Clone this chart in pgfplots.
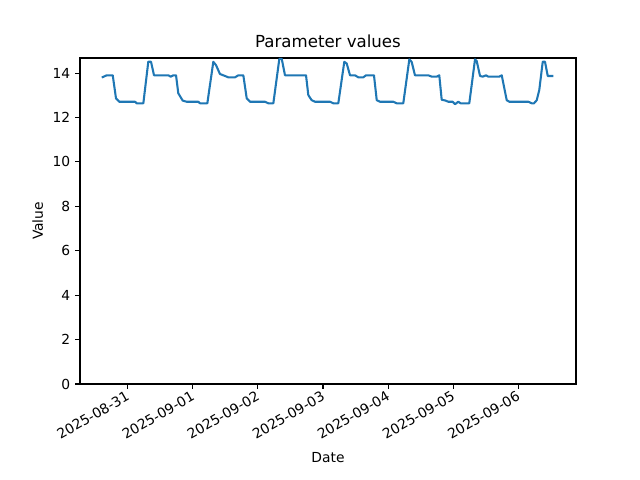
\documentclass[border=0pt]{standalone}
\usepackage{fontspec}
\setmainfont{DejaVu Sans}
\usepackage{pgfplots}
\pgfplotsset{compat=1.18}
\definecolor{mplblue}{HTML}{1F77B4}
\begin{document}
\begin{tikzpicture}
\begin{axis}[
  scale only axis,
  width=4.96in, height=3.26in,
  xmin=-0.733, xmax=6.886,
  ymin=0, ymax=14.68,
  xtick={0,1,2,3,4,5,6},
  xticklabels={2025-08-31,2025-09-01,2025-09-02,2025-09-03,2025-09-04,2025-09-05,2025-09-06},
  xticklabel style={rotate=30, anchor=north east, font=\fontsize{10}{12}\selectfont, inner sep=1pt, xshift=-1pt, yshift=1pt},
  ytick={0,2,4,6,8,10,12,14},
  yticklabel style={font=\fontsize{10}{12}\selectfont},
  /pgf/number format/assume math mode=true,
  tick align=outside,
  major tick length=3.5pt,
  tick style={black, line width=0.8pt},
  xtick pos=bottom, ytick pos=left,
  axis line style={line width=0.8pt},
  title={Parameter values},
  title style={font=\fontsize{12}{14}\selectfont, yshift=-2pt},
  xlabel={Date},
  ylabel={Value},
  label style={font=\fontsize{10}{12}\selectfont},
  xlabel style={yshift=-4pt},
]
\addplot[mplblue, line width=1.5pt, line join=round] coordinates {
(-0.399,13.8) (-0.323,13.9) (-0.230,13.9) (-0.180,12.86) (-0.129,12.71)
(0.112,12.71) (0.138,12.64) (0.240,12.64) (0.316,14.51) (0.358,14.51)
(0.404,13.9) (0.624,13.9) (0.661,13.84) (0.700,13.9) (0.742,13.9)
(0.777,13.09) (0.845,12.76) (0.906,12.71) (1.084,12.71) (1.111,12.64)
(1.223,12.64) (1.315,14.51) (1.356,14.36) (1.417,13.96) (1.495,13.87)
(1.545,13.81) (1.648,13.81) (1.699,13.9) (1.776,13.9) (1.828,12.86)
(1.879,12.71) (2.109,12.71) (2.160,12.64) (2.237,12.64) (2.329,14.64)
(2.366,14.64) (2.416,13.9) (2.739,13.9) (2.774,13.01) (2.826,12.78)
(2.877,12.71) (3.108,12.71) (3.158,12.64) (3.235,12.64) (3.327,14.51)
(3.364,14.43) (3.415,13.9) (3.492,13.9) (3.542,13.81) (3.619,13.81)
(3.660,13.9) (3.783,13.9) (3.825,12.78) (3.876,12.71) (4.080,12.71)
(4.132,12.64) (4.233,12.64) (4.326,14.62) (4.362,14.5) (4.413,13.9)
(4.618,13.9) (4.670,13.84) (4.747,13.84) (4.786,13.9) (4.823,12.8)
(4.874,12.77) (4.925,12.71) (4.992,12.71) (5.028,12.6) (5.078,12.71)
(5.115,12.64) (5.247,12.64) (5.335,14.62) (5.361,14.54) (5.412,13.87)
(5.453,13.84) (5.504,13.9) (5.539,13.84) (5.708,13.84) (5.745,13.9)
(5.822,12.78) (5.862,12.71) (6.154,12.71) (6.206,12.64) (6.241,12.64)
(6.283,12.78) (6.322,13.24) (6.375,14.51) (6.410,14.51) (6.452,13.87)
(6.538,13.87)
};
\end{axis}
\path (current axis.south west) ++(-0.80in,-0.96in) rectangle ([xshift=0.64in,yshift=0.58in]current axis.north east);
\end{tikzpicture}
\end{document}
